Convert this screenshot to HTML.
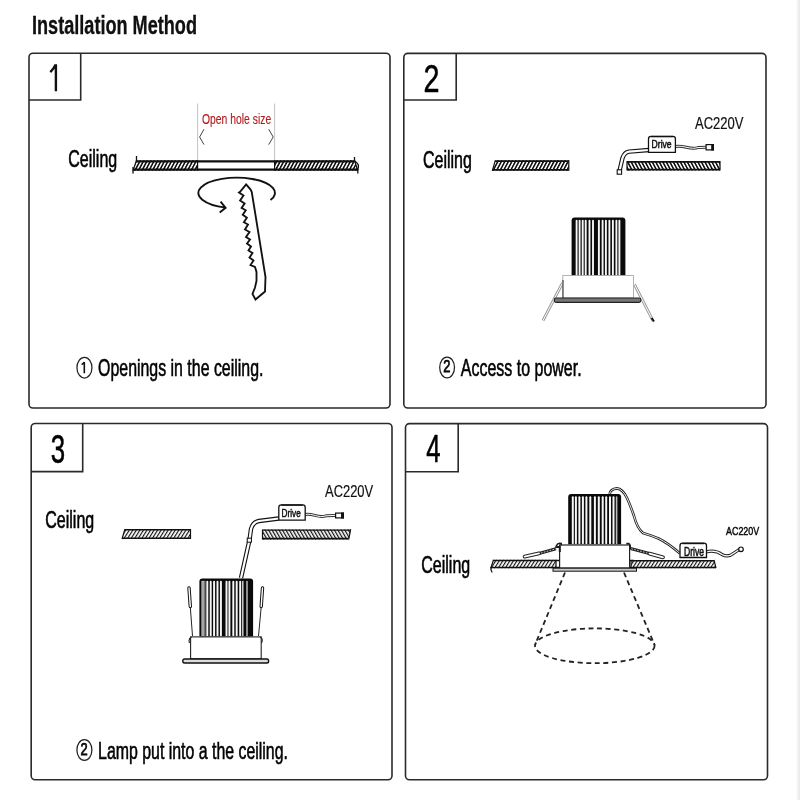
<!DOCTYPE html>
<html><head><meta charset="utf-8">
<style>
html,body{margin:0;padding:0;background:#fff;width:800px;height:800px;overflow:hidden}
svg{display:block;will-change:transform;filter:blur(0.3px)}
text{font-family:"Liberation Sans",sans-serif;fill:#111}
</style></head>
<body>
<svg width="800" height="800" viewBox="0 0 800 800">
<defs>
<pattern id="hf" patternUnits="userSpaceOnUse" width="3.1" height="10" patternTransform="rotate(28)">
<rect width="3.1" height="10" fill="#fff"/><rect width="1.6" height="10" fill="#111"/>
</pattern>
<pattern id="hb" patternUnits="userSpaceOnUse" width="3.1" height="10" patternTransform="rotate(-28)">
<rect width="3.1" height="10" fill="#fff"/><rect width="1.6" height="10" fill="#111"/>
</pattern>
<pattern id="hf2" patternUnits="userSpaceOnUse" width="3.0" height="10" patternTransform="rotate(32)">
<rect width="3.0" height="10" fill="#fff"/><rect width="1.15" height="10" fill="#111"/>
</pattern>
<pattern id="hb2" patternUnits="userSpaceOnUse" width="3.0" height="10" patternTransform="rotate(-30)">
<rect width="3.0" height="10" fill="#fff"/><rect width="1.25" height="10" fill="#111"/>
</pattern>
</defs>
<rect x="797.6" y="0" width="2.4" height="800" fill="#ececec"/><rect x="796" y="0" width="1.6" height="800" fill="#f8f8f8"/>

<text x="32" y="33.75" font-size="25" font-weight="bold" textLength="165" lengthAdjust="spacingAndGlyphs" stroke="#000" stroke-width="0.3">Installation Method</text>
<g fill="none" stroke="#2a2a2a" stroke-width="1.6">
<rect x="29" y="53.2" width="361" height="354.8" rx="4"/>
<path d="M29 100 H80.7 V53.2"/>
<rect x="403.8" y="53.4" width="362.2" height="354.6" rx="4"/>
<path d="M403.8 100 H456.2 V53.4"/>
<rect x="31.2" y="423.5" width="360.8" height="356.3" rx="4"/>
<path d="M31.2 471.6 H82.7 V423.5"/>
<rect x="405.5" y="423.6" width="362" height="356.2" rx="4"/>
<path d="M405.5 471.8 H458.2 V423.6"/>
</g>
<path d="M55.9 91.3 V64.3 M55.7 64.5 Q53.4 69.2 50.3 72.2" stroke="#111" stroke-width="2.4" fill="none" stroke-linecap="butt"/>
<text x="423.4" y="91.5" font-size="38.5" textLength="16" lengthAdjust="spacingAndGlyphs" stroke="#000" stroke-width="0.6" style="fill:#000">2</text>
<text x="50.8" y="462.9" font-size="41" textLength="14.4" lengthAdjust="spacingAndGlyphs" stroke="#000" stroke-width="0.6" style="fill:#000">3</text>
<text x="426.3" y="462.2" font-size="39.5" textLength="14.3" lengthAdjust="spacingAndGlyphs" stroke="#000" stroke-width="0.6" style="fill:#000">4</text>
<text x="68.3" y="167.4" font-size="23.5" textLength="48.9" lengthAdjust="spacingAndGlyphs" stroke="#000" stroke-width="0.6" style="fill:#000">Ceiling</text>
<text x="423" y="167.6" font-size="23.5" textLength="48.9" lengthAdjust="spacingAndGlyphs" stroke="#000" stroke-width="0.6" style="fill:#000">Ceiling</text>
<text x="45.3" y="528.4" font-size="23.5" textLength="48.9" lengthAdjust="spacingAndGlyphs" stroke="#000" stroke-width="0.6" style="fill:#000">Ceiling</text>
<text x="421.3" y="572.7" font-size="23.5" textLength="48.9" lengthAdjust="spacingAndGlyphs" stroke="#000" stroke-width="0.6" style="fill:#000">Ceiling</text>
<g fill="none" stroke="#222" stroke-width="1.25">
<ellipse cx="84.45" cy="367.7" rx="7.5" ry="10.3"/>
<ellipse cx="447.1" cy="367.45" rx="7.4" ry="10.4"/>
<ellipse cx="84.4" cy="750" rx="7.5" ry="10.3"/>
</g>
<path d="M84.3 373.3 V362 M84.2 362.1 Q83.3 363.6 81.6 364.6" stroke="#111" stroke-width="1.6" fill="none"/>
<text x="443.3" y="372.4" font-size="17" textLength="7.2" lengthAdjust="spacingAndGlyphs" stroke="#000" stroke-width="0.75">2</text>
<text x="80.6" y="755.3" font-size="17" textLength="7.2" lengthAdjust="spacingAndGlyphs" stroke="#000" stroke-width="0.75">2</text>
<text x="98.1" y="375.8" font-size="24" textLength="165.3" lengthAdjust="spacingAndGlyphs" stroke="#000" stroke-width="0.6" style="fill:#000">Openings in the ceiling.</text>
<text x="460.8" y="376.2" font-size="24.3" textLength="120.8" lengthAdjust="spacingAndGlyphs" stroke="#000" stroke-width="0.6" style="fill:#000">Access to power.</text>
<text x="98.1" y="758.5" font-size="24" textLength="189.8" lengthAdjust="spacingAndGlyphs" stroke="#000" stroke-width="0.6" style="fill:#000">Lamp put into a the ceiling.</text>
<text x="695" y="128.5" font-size="17" textLength="48.5" lengthAdjust="spacingAndGlyphs" stroke="#111" stroke-width="0.2">AC220V</text>
<text x="325" y="496.5" font-size="17" textLength="48.2" lengthAdjust="spacingAndGlyphs" stroke="#111" stroke-width="0.2">AC220V</text>
<text x="726" y="534.5" font-size="11.8" textLength="33.2" lengthAdjust="spacingAndGlyphs" stroke="#000" stroke-width="0.45">AC220V</text>
<text x="202" y="124" font-size="15.4" style="fill:#b01c1c" stroke="#b01c1c" stroke-width="0.15" textLength="69.2" lengthAdjust="spacingAndGlyphs">Open hole size</text>
<path d="M197.6 103.5 V161 M274.6 103.5 V161" stroke="#bbb" stroke-width="0.9"/>
<path d="M204 129.2 L199.6 137 L204 144.6 M268.7 129.2 L273.2 137 L268.7 144.6" stroke="#444" stroke-width="1" fill="none"/>
<polygon points="136.5,160.2 197.6,160.2 197.6,170.7 133,170.7" fill="url(#hf)"/>
<path d="M136.5 161.29999999999998 H197.6" stroke="#111" stroke-width="2.2"/>
<path d="M133 169.6 H197.6" stroke="#111" stroke-width="2.2"/>
<path d="M136.5 160.2 L133 170.7 M197.6 160.2 L197.6 170.7" stroke="#111" stroke-width="1.2"/>
<polygon points="274.6,160.2 354.5,160.2 357.8,170.7 274.6,170.7" fill="url(#hf)"/>
<path d="M274.6 161.29999999999998 H354.5" stroke="#111" stroke-width="2.2"/>
<path d="M274.6 169.6 H357.8" stroke="#111" stroke-width="2.2"/>
<path d="M274.6 160.2 L274.6 170.7 M354.5 160.2 L357.8 170.7" stroke="#111" stroke-width="1.2"/>
<path d="M197.6 161.3 H274.6 M197.6 169.6 H274.6" stroke="#111" stroke-width="2.2"/>
<path d="M136.5 156 V161 M133 167 V173.6 M354.5 157 V161 M357.8 169 V173.5" stroke="#111" stroke-width="1.3" fill="none"/>
<path d="M354.5 161 Q358.8 163.5 358.4 166.5 L357.8 170" stroke="#111" stroke-width="1.4" fill="none"/>
<path d="M270.5 200.1 A38.3 15.3 0 1 0 225.5 207.6 M220.6 201.6 L225.6 207.8 L219.7 212.5" stroke="#111" stroke-width="1.9" fill="none"/>
<path d="M246.1 184.4 L250.6 189.6 L251.75 192 L265.5 277 L265 291.5 L255.5 299.5 L252.5 294 L255 287.5 L256.5 281 L256.5 272 L255 267 L250.5 265 L253.5 260.5 L249.5 257.5 L252.5 253 L248.5 250.5 L251 246.5 L247 243.5 L250 239.5 L246 237 L249.5 232 L245 229.5 L248 224.5 L243.9 222.25 L246.9 217.75 L242.75 214.75 L245.75 210.25 L241.6 208 L244.6 203.5 L240.1 200.5 L243.5 195.6 L239 192.6 L240.1 191.9 Z" stroke="#111" stroke-width="1.85" fill="#fff" stroke-linejoin="miter"/>
<polygon points="495.3,160.3 568.8,160.3 568.8,170.8 492.3,170.8" fill="url(#hf)"/>
<path d="M495.3 161.20000000000002 H568.8" stroke="#111" stroke-width="1.8"/>
<path d="M492.3 169.9 H568.8" stroke="#111" stroke-width="1.8"/>
<path d="M495.3 160.3 L492.3 170.8 M568.8 160.3 L568.8 170.8" stroke="#111" stroke-width="1.2"/>
<polygon points="627,161 720,161 720,170.6 627,170.6" fill="url(#hb)"/>
<path d="M627 161.9 H720" stroke="#111" stroke-width="1.8"/>
<path d="M627 169.7 H720" stroke="#111" stroke-width="1.8"/>
<path d="M627 161 L627 170.6 M720 161 L720 170.6" stroke="#111" stroke-width="1.2"/>
<path d="M649 150 L629 151.6 Q624.5 152.2 622.5 158 L619.6 170.5" fill="none" stroke="#111" stroke-width="4.4" stroke-linecap="butt" stroke-linejoin="round"/>
<path d="M649 150 L629 151.6 Q624.5 152.2 622.5 158 L619.6 170.5" fill="none" stroke="#fff" stroke-width="2.2" stroke-linecap="butt" stroke-linejoin="round"/>
<rect x="617.2" y="169.8" width="4.4" height="4.4" fill="#fff" stroke="#111" stroke-width="1.1"/>
<path d="M675.4 146.5 C684 145, 690 150, 698 147.6 L706 147.2" fill="none" stroke="#333" stroke-width="3.0" stroke-linecap="butt" stroke-linejoin="round"/>
<path d="M675.4 146.5 C684 145, 690 150, 698 147.6 L706 147.2" fill="none" stroke="#fff" stroke-width="1.0" stroke-linecap="butt" stroke-linejoin="round"/>
<rect x="706.1" y="144.6" width="7.3" height="5.3" fill="#fff" stroke="#111" stroke-width="1.2"/>
<rect x="711.195" y="144" width="2.805" height="6.5" fill="#111"/>
<path d="M648.5 152.3 V138.8 Q648.5 136.3 651.0 136.3 H672.9 Q675.4 136.3 675.4 138.8 V152.3 Z" fill="#fff" stroke="#111" stroke-width="1.3"/>
<path d="M651.0 136.60000000000002 H672.9" stroke="#111" stroke-width="1.4"/>
<text x="651.6" y="147.6" font-size="11" font-weight="normal" textLength="20" lengthAdjust="spacingAndGlyphs" stroke="#111" stroke-width="0.55">Drive</text>
<path d="M562.5 283 L543 320.5" fill="none" stroke="#999" stroke-width="2.8" stroke-linecap="butt" stroke-linejoin="round"/>
<path d="M562.5 283 L543 320.5" fill="none" stroke="#fff" stroke-width="1.0" stroke-linecap="butt" stroke-linejoin="round"/>
<path d="M634.5 284.5 L653.2 321.2" fill="none" stroke="#999" stroke-width="2.8" stroke-linecap="butt" stroke-linejoin="round"/>
<path d="M634.5 284.5 L653.2 321.2" fill="none" stroke="#fff" stroke-width="1.0" stroke-linecap="butt" stroke-linejoin="round"/>
<path d="M651.5 318 L654 321.5" stroke="#111" stroke-width="2"/>
<path d="M571.6 276 V220.5 Q571.6 217.5 574.6 217.5 H622.4 Q625.4 217.5 625.4 220.5 V276 Z" fill="#0a0a0a"/>
<rect x="575.65" y="219.8" width="1.9" height="56.20" rx="0.95" fill="#f6f6f6"/>
<rect x="578.65" y="219.8" width="1.9" height="56.20" rx="0.95" fill="#f6f6f6"/>
<rect x="581.75" y="219.8" width="1.9" height="56.20" rx="0.95" fill="#f6f6f6"/>
<rect x="584.75" y="219.8" width="1.9" height="56.20" rx="0.95" fill="#f6f6f6"/>
<rect x="588.55" y="219.8" width="1.9" height="56.20" rx="0.95" fill="#f6f6f6"/>
<rect x="592.05" y="219.8" width="1.9" height="56.20" rx="0.95" fill="#f6f6f6"/>
<rect x="597.95" y="219.8" width="1.9" height="56.20" rx="0.95" fill="#f6f6f6"/>
<rect x="601.65" y="219.8" width="1.9" height="56.20" rx="0.95" fill="#f6f6f6"/>
<rect x="604.95" y="219.8" width="1.9" height="56.20" rx="0.95" fill="#f6f6f6"/>
<rect x="608.45" y="219.8" width="1.9" height="56.20" rx="0.95" fill="#f6f6f6"/>
<rect x="611.95" y="219.8" width="1.9" height="56.20" rx="0.95" fill="#f6f6f6"/>
<rect x="615.45" y="219.8" width="1.9" height="56.20" rx="0.95" fill="#f6f6f6"/>
<rect x="618.45" y="219.8" width="1.9" height="56.20" rx="0.95" fill="#f6f6f6"/>
<rect x="562.8" y="275.5" width="70.7" height="22.5" fill="#fff" stroke="#aaa" stroke-width="0.9"/>
<path d="M563 280 V298" stroke="#333" stroke-width="1"/>
<rect x="554.3" y="298" width="86.5" height="4.4" rx="1.8" fill="#777" stroke="#222" stroke-width="1.1"/>
<polygon points="125,529 190.5,529 190.5,539 122,539" fill="url(#hf2)"/>
<path d="M125 529.75 H190.5" stroke="#111" stroke-width="1.5"/>
<path d="M122 538.2 H190.5" stroke="#111" stroke-width="1.6"/>
<path d="M125 529 L122 539 M190.5 529 L190.5 539" stroke="#111" stroke-width="1.2"/>
<polygon points="262.5,529.4 350.7,529.4 348.7,539.4 262.5,539.4" fill="url(#hb2)"/>
<path d="M262.5 530.1 H350.7" stroke="#111" stroke-width="1.4"/>
<path d="M262.5 538.6 H348.7" stroke="#111" stroke-width="1.6"/>
<path d="M262.5 529.4 L262.5 539.4 M350.7 529.4 L348.7 539.4" stroke="#111" stroke-width="1.2"/>
<path d="M278.8 518.5 L259 521 Q253 522 251 529 L249.5 540 L241 578" fill="none" stroke="#111" stroke-width="4.4" stroke-linecap="butt" stroke-linejoin="round"/>
<path d="M278.8 518.5 L259 521 Q253 522 251 529 L249.5 540 L241 578" fill="none" stroke="#fff" stroke-width="2.2" stroke-linecap="butt" stroke-linejoin="round"/>
<rect x="247.2" y="538.2" width="4.2" height="4" fill="#fff" stroke="#111" stroke-width="1"/>
<path d="M305 514.5 C313 513, 318 518.5, 326 515.8 L335.5 515.4" fill="none" stroke="#333" stroke-width="3.0" stroke-linecap="butt" stroke-linejoin="round"/>
<path d="M305 514.5 C313 513, 318 518.5, 326 515.8 L335.5 515.4" fill="none" stroke="#fff" stroke-width="1.0" stroke-linecap="butt" stroke-linejoin="round"/>
<rect x="335.6" y="513.1" width="7.8" height="4.8" fill="#fff" stroke="#111" stroke-width="1.2"/>
<rect x="341.03" y="512.5" width="2.97" height="6.0" fill="#111"/>
<path d="M278.8 520.2 V507.3 Q278.8 504.8 281.3 504.8 H302.7 Q305.2 504.8 305.2 507.3 V520.2 Z" fill="#fff" stroke="#111" stroke-width="1.3"/>
<path d="M281.3 505.1 H302.7" stroke="#111" stroke-width="1.4"/>
<text x="281.6" y="516.8" font-size="11.5" font-weight="normal" textLength="19.2" lengthAdjust="spacingAndGlyphs" stroke="#111" stroke-width="0.55">Drive</text>
<path d="M199.4 636.5 V581.4 Q199.4 578.4 202.4 578.4 H250.1 Q253.1 578.4 253.1 581.4 V636.5 Z" fill="#0a0a0a"/>
<rect x="201.00" y="580.8" width="4.60" height="55.70" fill="#777"/>
<rect x="202.55" y="580.6999999999999" width="0.9" height="55.80" rx="0.45" fill="#ddd"/>
<rect x="206.33" y="580.6999999999999" width="1.95" height="55.80" rx="0.975" fill="#f6f6f6"/>
<rect x="209.73" y="580.6999999999999" width="1.95" height="55.80" rx="0.975" fill="#f6f6f6"/>
<rect x="213.12" y="580.6999999999999" width="1.95" height="55.80" rx="0.975" fill="#f6f6f6"/>
<rect x="216.53" y="580.6999999999999" width="1.95" height="55.80" rx="0.975" fill="#f6f6f6"/>
<rect x="219.93" y="580.6999999999999" width="1.95" height="55.80" rx="0.975" fill="#f6f6f6"/>
<rect x="225.53" y="580.6999999999999" width="1.95" height="55.80" rx="0.975" fill="#f6f6f6"/>
<rect x="228.43" y="580.6999999999999" width="1.95" height="55.80" rx="0.975" fill="#f6f6f6"/>
<rect x="232.33" y="580.6999999999999" width="1.95" height="55.80" rx="0.975" fill="#f6f6f6"/>
<rect x="235.72" y="580.6999999999999" width="1.95" height="55.80" rx="0.975" fill="#f6f6f6"/>
<rect x="239.22" y="580.6999999999999" width="1.95" height="55.80" rx="0.975" fill="#f6f6f6"/>
<rect x="242.05" y="580.6999999999999" width="1.5" height="55.80" rx="0.75" fill="#ccc"/>
<rect x="246.25" y="580.6999999999999" width="1.5" height="55.80" rx="0.75" fill="#bbb"/>
<path d="M189 588 L190.3 606.5" fill="none" stroke="#111" stroke-width="3.4" stroke-linecap="round" stroke-linejoin="round"/>
<path d="M189 588 L190.3 606.5" fill="none" stroke="#fff" stroke-width="1.4" stroke-linecap="round" stroke-linejoin="round"/>
<path d="M262.5 588 L261.2 606.5" fill="none" stroke="#111" stroke-width="3.4" stroke-linecap="round" stroke-linejoin="round"/>
<path d="M262.5 588 L261.2 606.5" fill="none" stroke="#fff" stroke-width="1.4" stroke-linecap="round" stroke-linejoin="round"/>
<path d="M190.3 607 L192.5 636 M261.2 607 L258.5 636" stroke="#222" stroke-width="1"/>
<rect x="190.6" y="636.9" width="70.6" height="21.9" fill="#fff" stroke="#222" stroke-width="1.1"/>
<path d="M191.5 637 Q188 639 189.5 643 M260.3 637 Q263.5 639 261.5 643" stroke="#222" stroke-width="1.1" fill="none"/>
<rect x="182.8" y="659" width="85.8" height="4" rx="1.8" fill="#ddd" stroke="#111" stroke-width="1.4"/>
<polygon points="493.5,559.8 556,559.8 556,568.2 490.8,568.2" fill="url(#hf2)"/>
<path d="M493.5 560.5 H556" stroke="#111" stroke-width="1.4"/>
<path d="M490.8 567.5 H556" stroke="#111" stroke-width="1.4"/>
<path d="M493.5 559.8 L490.8 568.2 M556 559.8 L556 568.2" stroke="#111" stroke-width="1.2"/>
<path d="M491 567 Q490.5 570 492.2 572.5" stroke="#111" stroke-width="1.3" fill="none"/>
<path d="M556 560.5 H560 M556 567.5 H560 M630 560.5 H634 M630 567.5 H634" stroke="#111" stroke-width="1.3"/>
<polygon points="631,560 714,560 716,568.2 631,568.2" fill="url(#hf2)"/>
<path d="M631 560.7 H714" stroke="#111" stroke-width="1.4"/>
<path d="M631 567.5 H716" stroke="#111" stroke-width="1.4"/>
<path d="M631 560 L631 568.2 M714 560 L716 568.2" stroke="#111" stroke-width="1.2"/>
<path d="M609.6 494 Q610.5 489 616.9 488.4 Q622.5 488.8 627 498 Q631 507 634 516 Q637 528 643 533 Q650 535 658.5 538.5 Q668 543 680 553.5" fill="none" stroke="#222" stroke-width="2.6" stroke-linecap="butt" stroke-linejoin="round"/>
<path d="M609.6 494 Q610.5 489 616.9 488.4 Q622.5 488.8 627 498 Q631 507 634 516 Q637 528 643 533 Q650 535 658.5 538.5 Q668 543 680 553.5" fill="none" stroke="#fff" stroke-width="0.9" stroke-linecap="butt" stroke-linejoin="round"/>
<path d="M538 553.8 L556 548.8 M650.3 553.8 L630.5 548.5" stroke="#222" stroke-width="3.2" fill="none"/>
<path d="M538 553.8 L556 548.8 M650.3 553.8 L630.5 548.5" stroke="#ddd" stroke-width="0.9" stroke-dasharray="1.6 1.4" fill="none"/>
<path d="M524.6 556.6 L539 553.4" fill="none" stroke="#222" stroke-width="3.8" stroke-linecap="round" stroke-linejoin="round"/>
<path d="M524.6 556.6 L539 553.4" fill="none" stroke="#fff" stroke-width="1.8" stroke-linecap="round" stroke-linejoin="round"/>
<path d="M663 557.3 L649.5 553.6" fill="none" stroke="#222" stroke-width="3.8" stroke-linecap="round" stroke-linejoin="round"/>
<path d="M663 557.3 L649.5 553.6" fill="none" stroke="#fff" stroke-width="1.8" stroke-linecap="round" stroke-linejoin="round"/>
<path d="M568.2 544.3 V497 Q568.2 494 571.2 494 H618.1 Q621.1 494 621.1 497 V544.3 Z" fill="#0a0a0a"/>
<rect x="571.80" y="496.3" width="2.0" height="48.00" rx="1.0" fill="#f6f6f6"/>
<rect x="574.90" y="496.3" width="2.0" height="48.00" rx="1.0" fill="#f6f6f6"/>
<rect x="578.40" y="496.3" width="2.0" height="48.00" rx="1.0" fill="#f6f6f6"/>
<rect x="581.90" y="496.3" width="2.0" height="48.00" rx="1.0" fill="#f6f6f6"/>
<rect x="585.40" y="496.3" width="2.0" height="48.00" rx="1.0" fill="#f6f6f6"/>
<rect x="589.30" y="496.3" width="2.0" height="48.00" rx="1.0" fill="#f6f6f6"/>
<rect x="593.90" y="496.3" width="2.0" height="48.00" rx="1.0" fill="#f6f6f6"/>
<rect x="597.80" y="496.3" width="2.0" height="48.00" rx="1.0" fill="#f6f6f6"/>
<rect x="601.70" y="496.3" width="2.0" height="48.00" rx="1.0" fill="#f6f6f6"/>
<rect x="605.20" y="496.3" width="2.0" height="48.00" rx="1.0" fill="#f6f6f6"/>
<rect x="609.00" y="496.3" width="2.0" height="48.00" rx="1.0" fill="#f6f6f6"/>
<rect x="612.50" y="496.3" width="2.0" height="48.00" rx="1.0" fill="#f6f6f6"/>
<rect x="615.80" y="496.3" width="1.6" height="48.00" rx="0.8" fill="#bbb"/>
<rect x="559.6" y="545" width="70" height="23" fill="#fff" stroke="#222" stroke-width="1.2"/>
<path d="M555.8 548 L556.5 545.5 Q557.5 543.3 559.5 543.3 L561.2 543.4 L561.2 545.5 M626.3 543.6 L628.5 543.6 Q630 544 630.2 546 L630.2 549" stroke="#1a1a1a" stroke-width="1.6" fill="none"/>
<path d="M556.2 547 L559.8 547 L559.8 552" stroke="#1a1a1a" stroke-width="2" fill="none"/>
<rect x="553" y="568.2" width="83.5" height="3" fill="#ccc" stroke="#151515" stroke-width="1"/>
<path d="M706 552 Q715 549.5 722 554.5 Q728 558 734 553 L740 549" fill="none" stroke="#222" stroke-width="3.2" stroke-linecap="butt" stroke-linejoin="round"/>
<path d="M706 552 Q715 549.5 722 554.5 Q728 558 734 553 L740 549" fill="none" stroke="#fff" stroke-width="1.2" stroke-linecap="butt" stroke-linejoin="round"/>
<circle cx="741" cy="549.3" r="2.3" fill="#fff" stroke="#111" stroke-width="1.2"/>
<path d="M680 557.5 V545.7 Q680 543.2 682.5 543.2 H704.0 Q706.5 543.2 706.5 545.7 V557.5 Z" fill="#fff" stroke="#111" stroke-width="1.3"/>
<path d="M682.5 543.5 H704.0" stroke="#111" stroke-width="1.4"/>
<text x="684" y="555.5" font-size="12" font-weight="normal" textLength="20" lengthAdjust="spacingAndGlyphs" stroke="#111" stroke-width="0.55">Drive</text>
<g fill="none" stroke="#222" stroke-width="1.8" stroke-dasharray="5 3.6">
<ellipse cx="594.8" cy="645.8" rx="59.8" ry="17.4"/>
<path d="M565 572.5 L535 645 M624 572.5 L654.6 645"/>
</g>
</svg>
</body></html>
